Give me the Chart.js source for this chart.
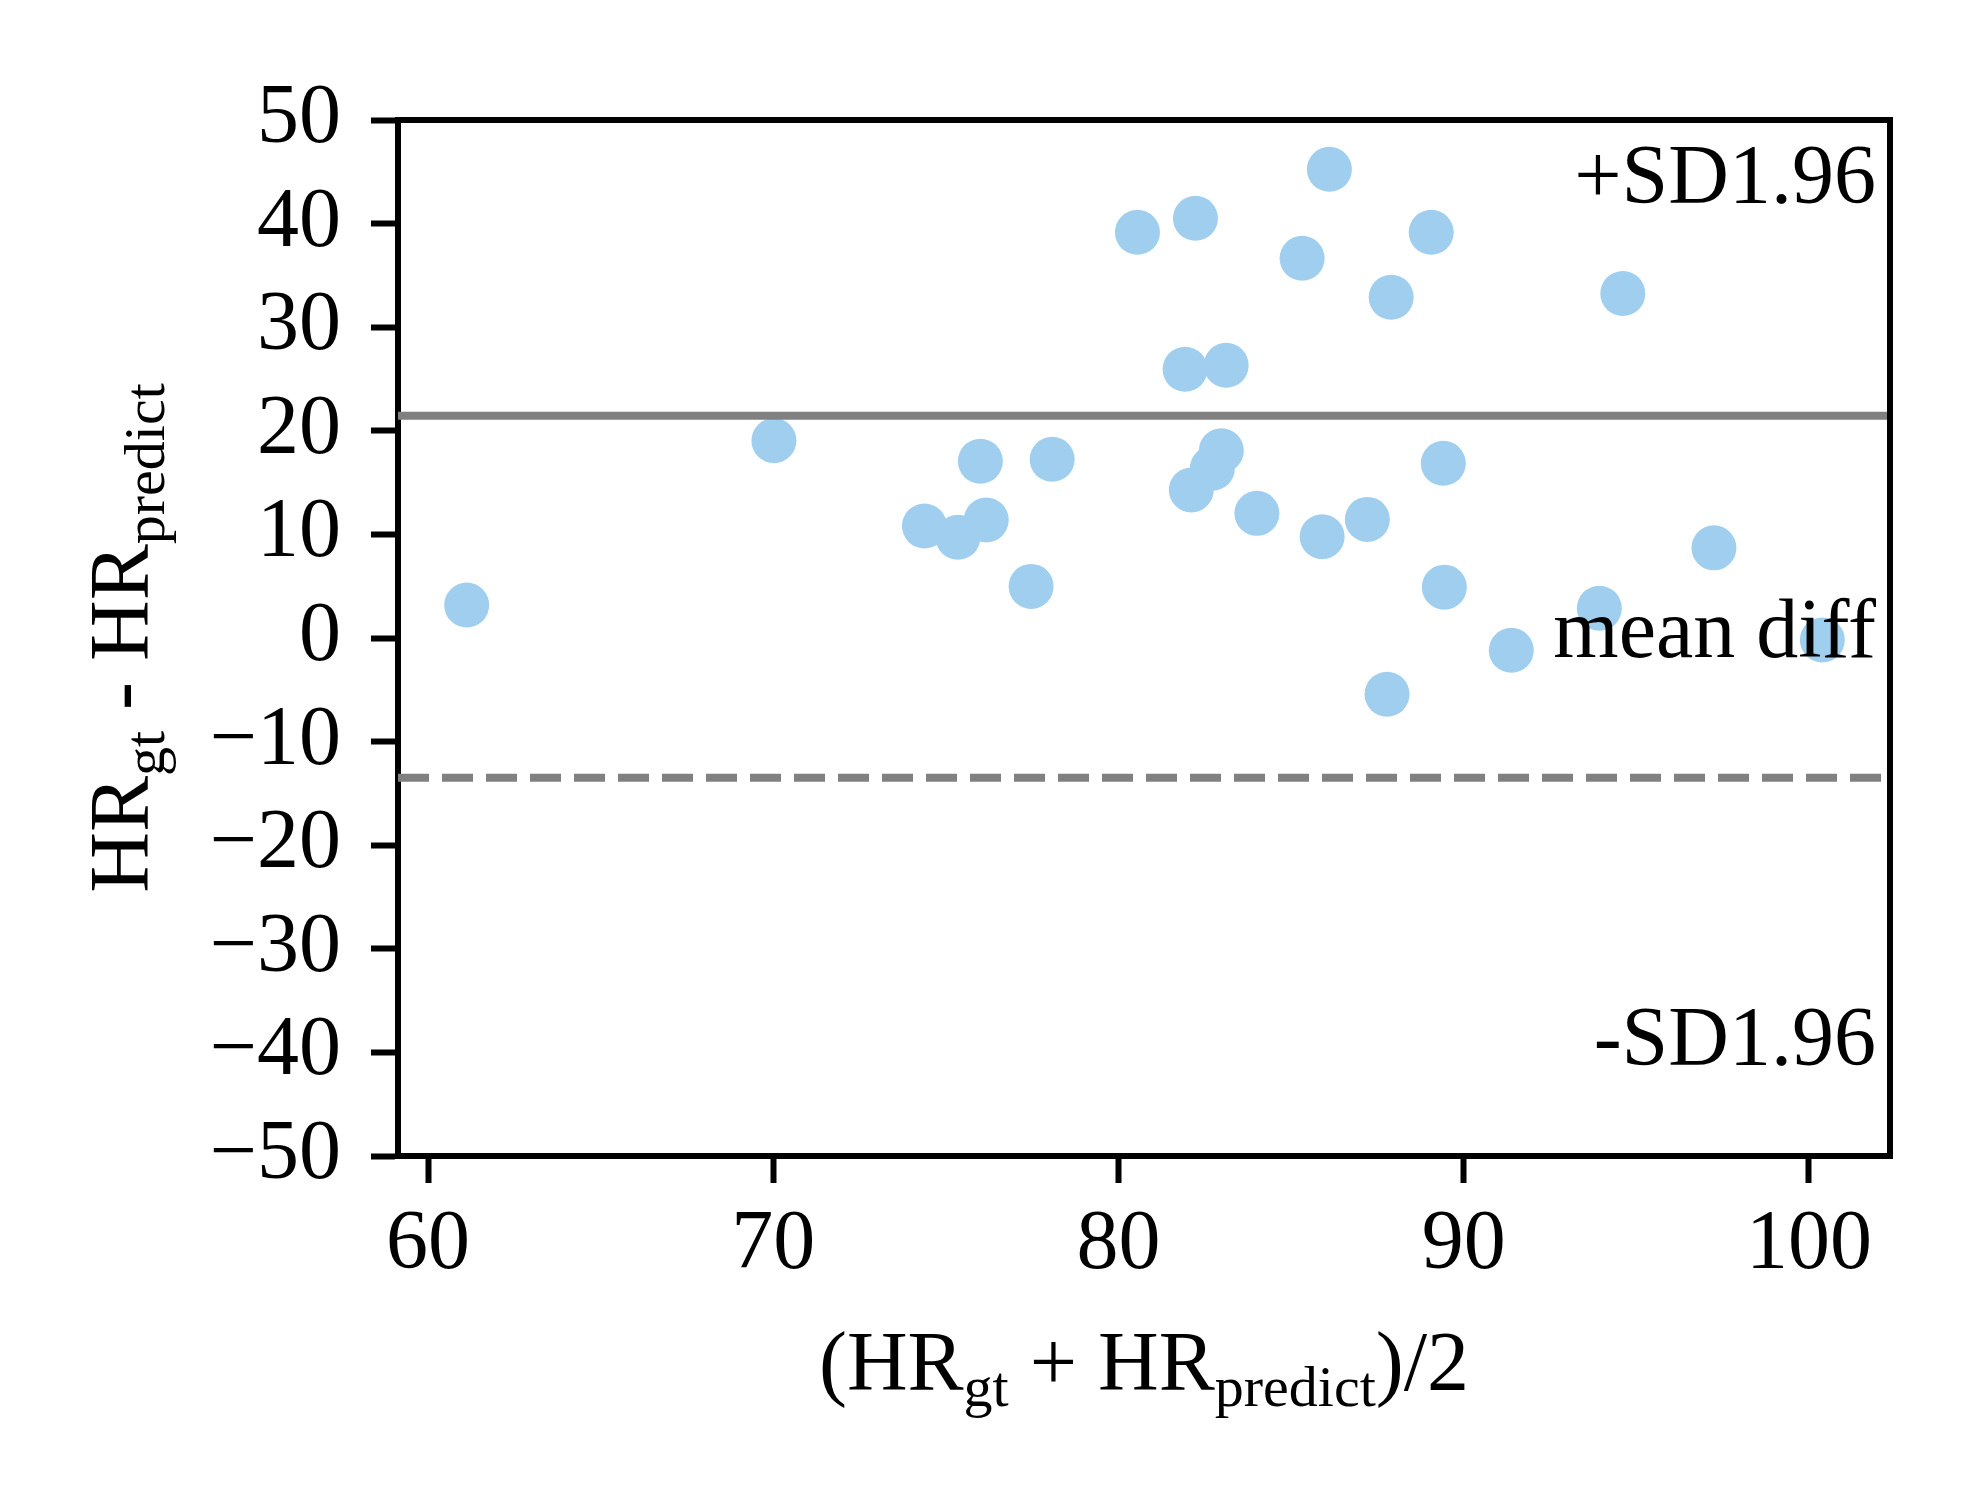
<!DOCTYPE html>
<html>
<head>
<meta charset="utf-8">
<script src="https://cdn.jsdelivr.net/npm/chart.js@4.4.1/dist/chart.umd.min.js"></script>
<style>
  html, body { margin: 0; padding: 0; background: #fff; }
  #wrap { width: 1980px; height: 1500px; }
</style>
</head>
<body>
<div id="wrap"><canvas id="bland" width="1980" height="1500"></canvas></div>
<script>
// mean of the two HR readings (x) and their difference (y)
const meanHR = [61.12, 70.02, 74.38, 75.35, 76.0, 76.17, 77.47, 78.08, 80.55, 81.93,
                82.11, 82.23, 82.72, 82.98, 83.12, 84.01, 85.32, 85.9, 86.11, 87.21,
                87.9, 87.78, 89.06, 89.41, 89.44, 91.38, 93.93, 94.61, 97.25, 100.39];
const diffHR = [3.18, 19.05, 10.81, 9.72, 17.06, 11.39, 4.98, 17.25, 39.16, 25.94,
                14.29, 40.51, 16.38, 18.08, 26.32, 12.03, 36.65, 9.78, 45.24, 11.45,
                32.89, -5.43, 39.16, 16.86, 4.91, -1.19, 2.87, 33.25, 8.7, -0.19];

const solidLine = 21.46;
const dashedLine = -13.5;

const xTicks = [60, 70, 80, 90, 100];
const yTicks = [-50, -40, -30, -20, -10, 0, 10, 20, 30, 40, 50];
const xRange = [59.13, 102.35];
const yRange = [-50, 50];

const notes = ['+SD1.96', 'mean diff', '-SD1.96'];

const FONT = '"Liberation Serif", "Times New Roman", serif';
const SIZE = 84;
const SUB = 58;

function drawRich(ctx, parts, x, y) {
    let total = 0;
    parts.forEach(p => {
        ctx.font = (p[1] ? SUB : SIZE) + 'px ' + FONT;
        total += ctx.measureText(p[0]).width;
    });
    let cx = x - total / 2;
    parts.forEach(p => {
        ctx.font = (p[1] ? SUB : SIZE) + 'px ' + FONT;
        ctx.fillText(p[0], cx, y + (p[1] ? 16 : 0));
        cx += ctx.measureText(p[0]).width;
    });
}

const decor = {
    id: 'decor',
    beforeDraw(chart) {
        const c = chart.ctx;
        c.save();
        c.fillStyle = '#fff';
        c.fillRect(0, 0, chart.width, chart.height);
        c.restore();
    },
    afterDatasetsDraw(chart) {
        const c = chart.ctx;
        const a = chart.chartArea;
        const h = a.bottom - a.top;
        c.save();
        c.fillStyle = '#000';
        c.textBaseline = 'alphabetic';
        c.textAlign = 'right';
        c.font = SIZE + 'px ' + FONT;
        const fr = [0.0801, 0.518, 0.912];
        notes.forEach((t, i) => c.fillText(t, a.right - 14, a.top + fr[i] * h));
        c.restore();
    },
    afterDraw(chart) {
        const c = chart.ctx;
        const a = chart.chartArea;
        c.save();
        // top and right spines
        c.strokeStyle = '#000';
        c.lineWidth = 6;
        c.beginPath();
        c.moveTo(a.left - 3, a.top);
        c.lineTo(a.right, a.top);
        c.lineTo(a.right, a.bottom + 3);
        c.stroke();

        c.fillStyle = '#000';
        c.textAlign = 'left';
        c.textBaseline = 'alphabetic';
        drawRich(c, [['(HR', 0], ['gt', 1], [' + HR', 0], ['predict', 1], [')/2', 0]],
            (a.left + a.right) / 2, 1390);

        c.translate(148, (a.top + a.bottom) / 2);
        c.rotate(-Math.PI / 2);
        drawRich(c, [['HR', 0], ['gt', 1], [' - HR', 0], ['predict', 1]], 0, 0);
        c.restore();
    }
};

const pts = meanHR.map((x, i) => ({ x: x, y: diffHR[i] }));

new Chart(document.getElementById('bland'), {
    type: 'scatter',
    data: {
        datasets: [
            {
                type: 'line',
                data: [{ x: xRange[0], y: solidLine }, { x: xRange[1], y: solidLine }],
                borderColor: '#808080',
                borderWidth: 8,
                pointRadius: 0,
                order: 1
            },
            {
                type: 'line',
                data: [{ x: xRange[0], y: dashedLine }, { x: xRange[1], y: dashedLine }],
                borderColor: '#808080',
                borderWidth: 8,
                borderDash: [31, 13],
                pointRadius: 0,
                order: 1
            },
            {
                data: pts,
                backgroundColor: 'rgb(160, 206, 239)',
                borderWidth: 0,
                pointRadius: 22.5,
                pointHoverRadius: 22.5,
                order: 2
            }
        ]
    },
    options: {
        responsive: false,
        devicePixelRatio: 1,
        animation: false,
        layout: { padding: { top: 120, right: 90, left: 0, bottom: 0 } },
        plugins: { legend: { display: false }, tooltip: { enabled: false } },
        scales: {
            x: {
                type: 'linear',
                min: xRange[0],
                max: xRange[1],
                afterBuildTicks: s => { s.ticks = xTicks.map(v => ({ value: v })); },
                afterFit: s => { s.height = 344; },
                grid: { drawOnChartArea: false, drawTicks: true, tickLength: 27, tickWidth: 6, tickColor: '#000' },
                border: { display: true, color: '#000', width: 6 },
                ticks: {
                    color: '#000',
                    padding: 13,
                    maxRotation: 0,
                    autoSkip: false,
                    font: { family: FONT, size: SIZE, lineHeight: 1.2 }
                }
            },
            y: {
                type: 'linear',
                min: yRange[0],
                max: yRange[1],
                afterBuildTicks: s => { s.ticks = yTicks.map(v => ({ value: v })); },
                afterFit: s => { s.width = 398; },
                grid: { drawOnChartArea: false, drawTicks: true, tickLength: 27, tickWidth: 6, tickColor: '#000' },
                border: { display: true, color: '#000', width: 6 },
                ticks: {
                    color: '#000',
                    padding: 30,
                    autoSkip: false,
                    font: { family: FONT, size: SIZE, lineHeight: 1 },
                    callback: v => String(v).replace('-', '\u2212')
                }
            }
        }
    },
    plugins: [decor]
});
</script>
</body>
</html>
